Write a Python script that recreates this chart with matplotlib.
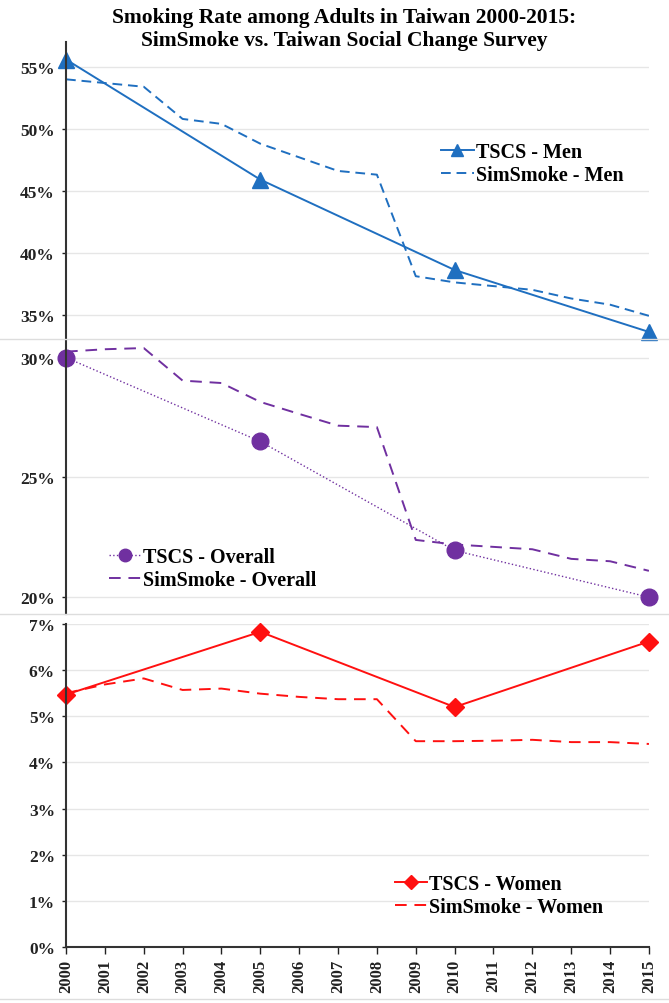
import matplotlib.pyplot as plt
from matplotlib.ticker import FuncFormatter
from matplotlib.lines import Line2D

plt.rcParams['font.family'] = ['Liberation Serif', 'DejaVu Serif']
plt.rcParams['font.weight'] = 'bold'

# Dane
years = list(range(2000, 2016))
tscs_years = [2000, 2005, 2010, 2015]

tscs_men = [55.6, 45.9, 38.6, 33.6]
sim_men = [54.0, 53.7, 53.4, 50.8, 50.4, 48.8, 47.7, 46.6, 46.3, 38.1, 37.6, 37.3, 37.0, 36.3, 35.8, 34.9]

tscs_all = [30.0, 26.5, 21.95, 20.0]
sim_all = [30.25, 30.35, 30.4, 29.04, 28.94, 28.15, 27.65, 27.16, 27.1, 22.39, 22.2, 22.1, 22.0, 21.6, 21.5, 21.1]

tscs_women = [5.47, 6.83, 5.2, 6.62]
sim_women = [5.5, 5.69, 5.82, 5.57, 5.6, 5.49, 5.42, 5.37, 5.37, 4.46, 4.46, 4.47, 4.49, 4.44, 4.44, 4.4]

blue = '#1f6fc0'
purple = '#7030a0'
red = '#ff1010'
grid_c = '#e6e6e6'

fig = plt.figure(figsize=(6.69, 10.04), dpi=100)
left, width = 0.0987, 0.8713
ax1 = fig.add_axes([left, 0.661, width, 0.296])
ax2 = fig.add_axes([left, 0.3875, width, 0.272])
ax3 = fig.add_axes([left, 0.0558, width, 0.3217])

pct = FuncFormatter(lambda v, p: f"{v:.0f}%")

for ax in (ax1, ax2, ax3):
    ax.set_xlim(2000, 2015)
    for s in ('top', 'right', 'bottom'):
        ax.spines[s].set_visible(False)
    ax.spines['left'].set_linewidth(1.5)
    ax.spines['left'].set_color('#333333')
    ax.yaxis.grid(True, color=grid_c, linewidth=1)
    ax.set_axisbelow(True)
    ax.yaxis.set_major_formatter(pct)
    ax.tick_params(axis='y', labelsize=12.5, length=3, width=1, colors='#222222', pad=5)
    ax.set_xticks(years)
    ax.set_facecolor('none')

leg_kw = dict(loc='upper left', frameon=False, fontsize=14.5, handlelength=1.6,
              handletextpad=0.1, borderaxespad=0, labelspacing=0.15, markerscale=0.75)

# Panel 1: mężczyźni
ax1.plot(tscs_years, tscs_men, color=blue, lw=1.4, marker='^', ms=11, clip_on=False, label='TSCS - Men')
ax1.plot(years, sim_men, color=blue, lw=1.4, ls=(0, (5, 3)), label='SimSmoke - Men')
ax1.set_ylim(33, 57)
ax1.set_yticks([35, 40, 45, 50, 55])
ax1.tick_params(axis='x', bottom=False, labelbottom=False)
ax1.legend(bbox_to_anchor=(0.63, 0.69), **leg_kw)

# Panel 2: ogółem
ax2.plot(tscs_years, tscs_all, color=purple, lw=1.0, ls=':', marker='o', ms=12, clip_on=False, label='TSCS - Overall')
ax2.plot(years, sim_all, color=purple, lw=1.4, ls=(0, (6, 4)), label='SimSmoke - Overall')
ax2.set_ylim(19.3, 30.7)
ax2.set_yticks([20, 25, 30])
ax2.tick_params(axis='x', bottom=False, labelbottom=False)
ax2.legend(bbox_to_anchor=(0.06, 0.275), **leg_kw)

# Panel 3: kobiety
ax3.plot(tscs_years, tscs_women, color=red, lw=1.4, marker='D', ms=9, clip_on=False, label='TSCS - Women')
ax3.plot(years, sim_women, color=red, lw=1.4, ls=(0, (6, 4)), label='SimSmoke - Women')
ax3.set_ylim(0, 7)
ax3.set_yticks(range(0, 8))
ax3.spines['bottom'].set_visible(True)
ax3.spines['bottom'].set_linewidth(1.5)
ax3.spines['bottom'].set_color('#333333')
ax3.set_xticklabels([str(y) for y in years], rotation=90)
ax3.tick_params(axis='x', labelsize=12, length=5, width=1, direction='out', colors='#222222')
ax3.legend(bbox_to_anchor=(0.55, 0.25), **leg_kw)

# Linie oddzielające panele
for yf in (1 - 340 / 1004, 1 - 615 / 1004, 1 - 1000 / 1004):
    fig.add_artist(Line2D([0, 1], [yf, yf], transform=fig.transFigure, color='#dddddd', lw=1))

fig.text(0.514, 1 - 18 / 1004, 'Smoking Rate among Adults in Taiwan 2000-2015:',
         ha='center', va='center', fontsize=15.5, fontweight='bold')
fig.text(0.514, 1 - 41 / 1004, 'SimSmoke vs. Taiwan Social Change Survey',
         ha='center', va='center', fontsize=15.5, fontweight='bold')

fig.savefig('out.png', dpi=100)
